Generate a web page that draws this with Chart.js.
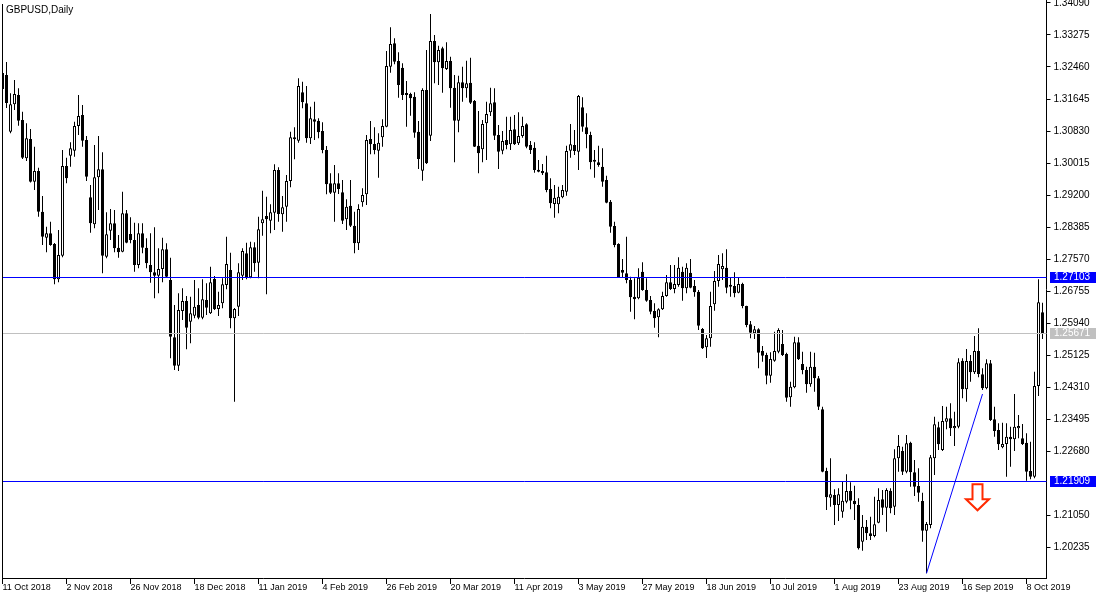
<!DOCTYPE html>
<html>
<head>
<meta charset="utf-8">
<script src="https://cdn.jsdelivr.net/npm/chart.js@4.4.1/dist/chart.umd.min.js"></script>
<style>
html,body{margin:0;padding:0;background:#fff;overflow:hidden}
canvas{display:block}
</style>
</head>
<body>
<canvas id="c" width="1100" height="600"></canvas>
<script>
// ---- Daily OHLC, GBPUSD, 11 Oct 2018 .. 14 Oct 2019 ----
const opens = [
1.32307,1.32256,1.30812,1.31510,1.31746,1.31110,1.30134,1.30626,1.29538,1.29811,
1.28774,1.28112,1.28224,1.27952,1.27053,1.27654,1.29938,1.30201,1.30328,1.30957,
1.31237,1.30600,1.29141,1.28453,1.29650,1.29854,1.27628,1.28290,1.28479,1.27857,
1.27756,1.28734,1.28206,1.28053,1.27417,1.28224,1.27857,1.27417,1.27231,1.27144,
1.27315,1.27817,1.27035,1.25575,1.24852,1.26245,1.26500,1.25973,1.26125,1.26398,
1.26075,1.26525,1.26187,1.27060,1.26296,1.26441,1.26907,1.27289,1.26059,1.26355,
1.27144,1.27715,1.27103,1.27868,1.27475,1.28479,1.28665,1.28545,1.28749,1.29836,
1.28708,1.28902,1.29556,1.30669,1.30583,1.31815,1.31535,1.30644,1.31128,1.31092,
1.30830,1.30346,1.29498,1.29258,1.29498,1.29268,1.28581,1.28927,1.28418,1.27969,
1.29014,1.29217,1.30626,1.30499,1.30328,1.30669,1.30939,1.32467,1.33063,1.32612,
1.32442,1.31790,1.31772,1.31703,1.30812,1.29818,1.31874,1.30710,1.33122,1.32579,
1.32936,1.32409,1.32612,1.31932,1.31092,1.32070,1.31917,1.32060,1.31594,1.30455,
1.30364,1.31026,1.31306,1.31561,1.30728,1.30328,1.30600,1.30491,1.30873,1.30516,
1.30702,1.31000,1.30473,1.30404,1.29836,1.29811,1.29778,1.29352,1.28970,1.28963,
1.29141,1.29284,1.30328,1.30473,1.30302,1.31433,1.30924,1.30728,1.30091,1.30032,
1.29920,1.29582,1.29029,1.28410,1.27952,1.27289,1.27205,1.27035,1.26609,1.26569,
1.27246,1.26780,1.26525,1.26245,1.26085,1.26288,1.26627,1.26976,1.26806,1.26907,
1.27246,1.26823,1.27221,1.26882,1.26737,1.25787,1.25321,1.25550,1.26416,1.27009,
1.27307,1.27348,1.26890,1.26882,1.26711,1.26933,1.26373,1.25906,1.25677,1.25779,
1.25226,1.25125,1.24597,1.24979,1.25209,1.25405,1.25150,1.24047,1.24302,1.25448,
1.24895,1.24743,1.24378,1.24827,1.24531,1.23742,1.22170,1.21490,1.21559,1.21304,
1.21134,1.21388,1.21661,1.21414,1.21304,1.20369,1.20752,1.20583,1.20515,1.20853,
1.21449,1.21235,1.21668,1.21261,1.22494,1.22680,1.22152,1.22891,1.22137,1.21788,
1.21406,1.20650,1.20795,1.22494,1.23283,1.22705,1.23426,1.23512,1.23258,1.23298,
1.24979,1.24251,1.24972,1.24684,1.25226,1.24633,1.24276,1.24913,1.23487,1.23214,
1.22774,1.22858,1.23044,1.22978,1.23258,1.23003,1.22891,1.22170,1.22025,1.24335,
1.26212];
const highs = [
1.32562,1.32587,1.31790,1.32129,1.31917,1.31321,1.31026,1.30881,1.30430,1.29895,
1.29174,1.28392,1.28520,1.27977,1.28308,1.30346,1.30150,1.30542,1.31066,1.31746,
1.31492,1.30702,1.29454,1.30473,1.30702,1.30287,1.28759,1.28843,1.28818,1.28181,
1.29284,1.28818,1.28632,1.28494,1.28479,1.28479,1.28097,1.28224,1.28377,1.27842,
1.28112,1.27969,1.27603,1.26398,1.26696,1.26823,1.26627,1.26609,1.27035,1.26823,
1.27053,1.26951,1.27373,1.27137,1.26737,1.27078,1.28138,1.27730,1.26322,1.27460,
1.27842,1.27985,1.28010,1.27995,1.28647,1.29309,1.29156,1.28963,1.29981,1.29905,
1.29174,1.29709,1.30812,1.30924,1.32172,1.32085,1.31976,1.31449,1.31576,1.31153,
1.31051,1.30448,1.29752,1.29964,1.29752,1.29582,1.29090,1.29582,1.28774,1.28963,
1.29370,1.30728,1.31084,1.30924,1.30771,1.31128,1.32867,1.33471,1.33191,1.32834,
1.32554,1.32103,1.31805,1.31815,1.31084,1.31917,1.32893,1.33809,1.33275,1.33002,
1.32977,1.33089,1.32722,1.32256,1.32238,1.32467,1.32620,1.32696,1.31619,1.31339,
1.31110,1.31576,1.31932,1.31917,1.30982,1.30830,1.31194,1.31194,1.31237,1.31306,
1.31194,1.31026,1.30575,1.30542,1.30091,1.29989,1.30201,1.29625,1.29454,1.29411,
1.29454,1.30455,1.31008,1.30855,1.31746,1.31688,1.31280,1.30812,1.30346,1.30455,
1.30389,1.29691,1.29072,1.28520,1.27969,1.27570,1.28138,1.27119,1.27078,1.27333,
1.27486,1.27078,1.26627,1.26441,1.26314,1.26737,1.27162,1.27417,1.27417,1.27613,
1.27373,1.27460,1.27570,1.27035,1.26780,1.25812,1.25634,1.26737,1.27264,1.27671,
1.27715,1.27817,1.27103,1.27231,1.27103,1.26966,1.26380,1.25991,1.25863,1.25805,
1.25354,1.25183,1.25193,1.25718,1.25805,1.25761,1.25183,1.24445,1.25591,1.25575,
1.25209,1.24827,1.25209,1.25183,1.24590,1.23808,1.22254,1.22494,1.21704,1.21730,
1.21898,1.22086,1.21882,1.21796,1.21475,1.21049,1.20922,1.21006,1.21516,1.21730,
1.21686,1.21730,1.21730,1.22723,1.23087,1.22789,1.23087,1.22916,1.22450,1.22239,
1.21617,1.20871,1.22578,1.23553,1.23426,1.23826,1.23808,1.23894,1.23680,1.25041,
1.25041,1.25277,1.25125,1.25608,1.25805,1.24786,1.25015,1.24997,1.23808,1.23385,
1.23400,1.23385,1.23298,1.24131,1.23596,1.23367,1.23130,1.22916,1.24699,1.27053,
1.26457];
const lows = [
1.31823,1.31415,1.30771,1.31364,1.30965,1.30116,1.30066,1.29518,1.29327,1.28647,
1.27926,1.27740,1.27908,1.26925,1.26976,1.27613,1.29498,1.29920,1.30175,1.30728,
1.30430,1.29556,1.28239,1.28351,1.28818,1.27205,1.27587,1.28053,1.27740,1.27603,
1.27740,1.27969,1.27969,1.27246,1.27333,1.27715,1.27333,1.26966,1.26569,1.26696,
1.26976,1.27103,1.25041,1.24743,1.24717,1.26016,1.25270,1.25423,1.26059,1.26034,
1.26034,1.26143,1.26169,1.26271,1.26118,1.26314,1.26798,1.25805,1.23935,1.26118,
1.27035,1.27053,1.27078,1.27246,1.27078,1.28163,1.26671,1.28224,1.28308,1.28520,
1.28265,1.28520,1.29396,1.30109,1.30532,1.31408,1.30532,1.30499,1.30600,1.30644,
1.30262,1.29217,1.29225,1.28520,1.29225,1.28461,1.28308,1.28385,1.27715,1.27799,
1.28902,1.28945,1.30236,1.30236,1.29640,1.30430,1.30924,1.32314,1.32528,1.31678,
1.31619,1.30939,1.31219,1.30659,1.29862,1.29564,1.29989,1.30575,1.32044,1.32001,
1.31805,1.32383,1.31423,1.30032,1.30797,1.31576,1.31678,1.31517,1.30422,1.29752,
1.30032,1.30091,1.31212,1.30600,1.29862,1.30236,1.30364,1.30346,1.30473,1.30473,
1.30659,1.30389,1.30244,1.29768,1.29778,1.29709,1.29268,1.28861,1.28621,1.28734,
1.29116,1.29182,1.30150,1.30218,1.29836,1.30812,1.30389,1.29854,1.29640,1.29920,
1.29411,1.28988,1.28239,1.27868,1.27086,1.27103,1.26951,1.26227,1.26034,1.26543,
1.26762,1.26482,1.26161,1.25820,1.25575,1.26271,1.26609,1.26780,1.26696,1.26864,
1.26508,1.26696,1.26823,1.26609,1.25761,1.25277,1.25048,1.25336,1.26253,1.26864,
1.27035,1.26696,1.26609,1.26594,1.26696,1.26314,1.25830,1.25550,1.25532,1.24786,
1.24954,1.24378,1.24419,1.24954,1.25168,1.25099,1.23935,1.23808,1.24276,1.24997,
1.24633,1.24164,1.24317,1.24190,1.23724,1.22137,1.21177,1.21261,1.20795,1.20897,
1.20981,1.21348,1.21195,1.20922,1.20171,1.20140,1.20413,1.20413,1.20482,1.20838,
1.21049,1.20624,1.21093,1.21049,1.22152,1.22068,1.22112,1.21770,1.21533,1.21388,
1.20369,1.19565,1.20711,1.22068,1.22705,1.22680,1.23232,1.23062,1.22807,1.23258,
1.24022,1.23935,1.24445,1.24641,1.24557,1.24233,1.24251,1.23444,1.23044,1.22705,
1.22748,1.22025,1.22280,1.22680,1.23003,1.22832,1.21923,1.21959,1.21984,1.24080,
1.25532];
const closes = [
1.31899,1.31543,1.31510,1.31772,1.31092,1.30150,1.30644,1.29538,1.29811,1.28774,
1.28138,1.28224,1.27926,1.27053,1.27671,1.29938,1.29625,1.30389,1.30957,1.31212,
1.30583,1.29666,1.28479,1.29650,1.29854,1.27654,1.28199,1.28479,1.27842,1.27740,
1.28734,1.27985,1.28053,1.27417,1.28224,1.27857,1.27460,1.27231,1.27144,1.27315,
1.27817,1.27119,1.25591,1.24852,1.26271,1.26500,1.25820,1.26187,1.26355,1.26075,
1.26543,1.26329,1.26976,1.26288,1.26398,1.26925,1.27442,1.26059,1.26296,1.27231,
1.27773,1.27103,1.27868,1.27460,1.28326,1.28581,1.28581,1.28759,1.29836,1.28716,
1.28886,1.29556,1.30669,1.30618,1.31976,1.31561,1.30644,1.31153,1.31066,1.30797,
1.30346,1.29472,1.29258,1.29498,1.29352,1.28545,1.28902,1.28418,1.27969,1.28843,
1.29200,1.30600,1.30491,1.30346,1.30532,1.30957,1.32485,1.33045,1.32595,1.32001,
1.31746,1.31746,1.31662,1.30786,1.30116,1.31874,1.30007,1.33122,1.32579,1.32893,
1.32427,1.32612,1.31917,1.31092,1.32070,1.31917,1.32044,1.31550,1.30430,1.30262,
1.31008,1.31263,1.31535,1.30710,1.30302,1.30575,1.30473,1.30855,1.30491,1.30702,
1.30957,1.30430,1.30346,1.29836,1.29793,1.29752,1.29327,1.28988,1.29131,1.29156,
1.29327,1.30320,1.30491,1.30320,1.31721,1.30939,1.30746,1.30032,1.30048,1.29964,
1.29538,1.29003,1.28392,1.27926,1.27103,1.27221,1.27035,1.26594,1.26543,1.27093,
1.26780,1.26508,1.26227,1.26059,1.26288,1.26627,1.26976,1.26806,1.26933,1.27348,
1.26823,1.27348,1.26839,1.26721,1.25871,1.25295,1.25550,1.26373,1.27009,1.27442,
1.27391,1.26839,1.26864,1.26696,1.26933,1.26373,1.25889,1.25693,1.25779,1.25183,
1.25107,1.24597,1.25023,1.25226,1.25761,1.25125,1.24037,1.24317,1.25448,1.25015,
1.24743,1.24378,1.24827,1.24531,1.23808,1.22152,1.21500,1.21577,1.21304,1.21577,
1.21414,1.21661,1.21414,1.21322,1.20202,1.20752,1.20583,1.20515,1.20813,1.21432,
1.21235,1.21686,1.21220,1.22494,1.22807,1.22152,1.22876,1.22137,1.21770,1.21617,
1.20650,1.20820,1.22519,1.23359,1.22850,1.23444,1.23512,1.23258,1.23316,1.24939,
1.24251,1.24972,1.24684,1.25226,1.24641,1.24276,1.24913,1.23469,1.23189,1.22850,
1.22858,1.23044,1.22978,1.23298,1.23316,1.22858,1.22152,1.22025,1.24335,1.26467,
1.25671];

// x-axis tick labels (one every 16 bars)
const tickLabels = ['11 Oct 2018','2 Nov 2018','26 Nov 2018','18 Dec 2018','11 Jan 2019','4 Feb 2019',
  '26 Feb 2019','20 Mar 2019','11 Apr 2019','3 May 2019','27 May 2019','18 Jun 2019','10 Jul 2019',
  '1 Aug 2019','23 Aug 2019','16 Sep 2019','8 Oct 2019'];
const tickEvery = 16;
// price-axis tick values
const yTicks = [1.20235,1.21050,1.21865,1.22680,1.23495,1.24310,1.25125,1.25940,1.26755,1.27570,
  1.28385,1.29200,1.30015,1.30830,1.31645,1.32460,1.33275,1.34090];
const yTickShown = yTicks.filter(v => Math.abs(v - 1.21865) > 1e-6);
const yMin = 1.194455, yMax = 1.341664;

// horizontal levels and their axis tags
const levelPrices = [1.27103, 1.25671, 1.21909];
const levelColors = ['#0000ff', '#c0c0c0', '#0000ff'];
// trend line (date, price)
const trendDates = ['3 Sep 2019', '23 Sep 2019'];
const trendPrices = [1.19565, 1.24131];
// down arrow marker
const arrowDate = '20 Sep 2019';
const arrowPrice = 1.21832;
const title = 'GBPUSD,Daily';

// trading-day categories
const MONTHS = ['Jan','Feb','Mar','Apr','May','Jun','Jul','Aug','Sep','Oct','Nov','Dec'];
const closedDays = ['2018-12-25','2019-01-01'];
const dates = [];
for (let d = new Date(Date.UTC(2018, 9, 11)); dates.length < opens.length; d.setUTCDate(d.getUTCDate() + 1)) {
  const wd = d.getUTCDay();
  const iso = d.toISOString().slice(0, 10);
  if (wd === 0 || wd === 6 || closedDays.includes(iso)) continue;
  dates.push(d.getUTCDate() + ' ' + MONTHS[d.getUTCMonth()] + ' ' + d.getUTCFullYear());
}
const labels = dates.concat(['']);

const FONT = '"Liberation Sans", Arial, sans-serif';
Chart.defaults.font.family = FONT;

const overlay = {
  id: 'overlay',
  afterDatasetsDraw(chart) {
    const {ctx, chartArea: a, scales: {x, y}} = chart;
    ctx.save();
    // horizontal levels
    levelPrices.forEach((v, k) => {
      const py = Math.floor(y.getPixelForValue(v)) + 0.5;
      ctx.strokeStyle = levelColors[k];
      ctx.lineWidth = 1;
      ctx.beginPath();
      ctx.moveTo(2, py);
      ctx.lineTo(a.right, py);
      ctx.stroke();
    });
    // arrow
    const cx = x.getPixelForValue(labels.indexOf(arrowDate)) - 1;
    const ty = y.getPixelForValue(arrowPrice);
    ctx.beginPath();
    ctx.moveTo(cx - 5, ty);
    ctx.lineTo(cx + 5, ty);
    ctx.lineTo(cx + 5, ty + 15);
    ctx.lineTo(cx + 11.5, ty + 15);
    ctx.lineTo(cx, ty + 26);
    ctx.lineTo(cx - 11.5, ty + 15);
    ctx.lineTo(cx - 5, ty + 15);
    ctx.closePath();
    ctx.fillStyle = '#fff';
    ctx.fill();
    ctx.strokeStyle = '#ff2a00';
    ctx.lineWidth = 2;
    ctx.lineJoin = 'miter';
    ctx.stroke();
    ctx.restore();
  },
  afterDraw(chart) {
    const {ctx, chartArea: a, scales: {y}} = chart;
    ctx.save();
    // left frame
    ctx.fillStyle = '#000';
    ctx.fillRect(2, 4, 1, a.bottom - 3);
    // level tags
    ctx.font = '10px ' + FONT;
    ctx.textBaseline = 'middle';
    ctx.textAlign = 'left';
    levelPrices.forEach((v, k) => {
      const py = Math.floor(y.getPixelForValue(v)) + 0.5;
      ctx.fillStyle = levelColors[k];
      ctx.fillRect(1050, Math.round(py - 6), 46, 11);
      ctx.fillStyle = '#fff';
      ctx.fillText(v.toFixed(5), 1054, py);
    });
    // title
    ctx.fillStyle = '#000';
    ctx.textBaseline = 'alphabetic';
    ctx.fillText(title, 6, 13);
    ctx.restore();
  }
};

new Chart(document.getElementById('c'), {
  type: 'bar',
  data: {
    labels: labels,
    datasets: [
      {
        label: 'Wick',
        data: lows.map((l, i) => [l, highs[i]]),
        backgroundColor: '#000',
        borderWidth: 0,
        barThickness: 1,
        grouped: false,
        inflateAmount: 0,
        order: 2
      },
      {
        label: 'Body',
        data: opens.map((o, i) => [o, closes[i]]),
        backgroundColor: opens.map((o, i) => closes[i] >= o ? '#ffffff' : '#000000'),
        borderColor: '#000',
        borderWidth: 1,
        borderSkipped: false,
        barThickness: 3,
        minBarLength: 2,
        grouped: false,
        inflateAmount: 0,
        order: 1
      },
      {
        type: 'line',
        label: 'Trend',
        data: trendDates.map((d, i) => ({x: d, y: trendPrices[i]})),
        borderColor: '#0000ff',
        borderWidth: 1,
        pointRadius: 0,
        fill: false,
        tension: 0,
        order: 0
      }
    ]
  },
  options: {
    responsive: false,
    animation: false,
    devicePixelRatio: 1,
    events: [],
    layout: {padding: {left: 2.5, top: 0, right: 0, bottom: 0}},
    plugins: {legend: {display: false}, tooltip: {enabled: false}},
    scales: {
      x: {
        type: 'category',
        offset: false,
        afterFit: s => { s.height = 22; s.paddingLeft = 0; s.paddingRight = 0; },
        grid: {
          offset: false,
          drawOnChartArea: false,
          drawTicks: true,
          tickLength: 6,
          color: c => (c.index % tickEvery === 0 && c.index / tickEvery < tickLabels.length) ? '#000' : 'rgba(0,0,0,0)'
        },
        border: {display: true, color: '#000'},
        ticks: {
          autoSkip: false,
          maxRotation: 0,
          minRotation: 0,
          align: 'start',
          padding: -2,
          color: '#000',
          font: {size: 9, family: FONT},
          callback: (v, i) => (i % tickEvery === 0 && i / tickEvery < tickLabels.length) ? tickLabels[i / tickEvery] : ''
        }
      },
      y: {
        type: 'linear',
        position: 'right',
        min: yMin,
        max: yMax,
        bounds: 'data',
        beginAtZero: false,
        afterBuildTicks: s => { s.ticks = yTickShown.map(v => ({value: v})); },
        afterFit: s => { s.width = 53.5; s.paddingTop = 0; s.paddingBottom = 0; },
        grid: {drawOnChartArea: false, drawTicks: true, tickLength: 4, color: '#000'},
        border: {display: true, color: '#000'},
        ticks: {
          padding: 3,
          color: '#000',
          font: {size: 10, family: FONT},
          callback: v => Number(v).toFixed(5)
        }
      }
    }
  },
  plugins: [overlay]
});
</script>
</body>
</html>
